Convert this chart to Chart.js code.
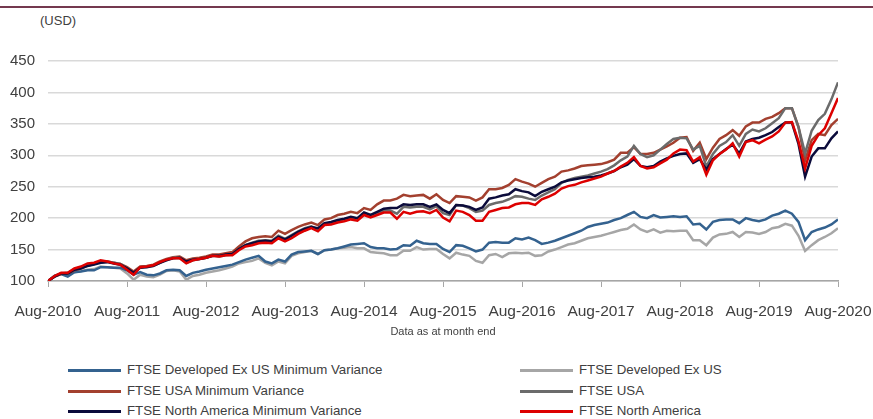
<!DOCTYPE html>
<html>
<head>
<meta charset="utf-8">
<script src="https://cdn.jsdelivr.net/npm/chart.js@4.4.1/dist/chart.umd.min.js"></script>
<style>
  body { margin: 0; background: #fff; font-family: "Liberation Sans", Arial, sans-serif; }
  #wrap { position: relative; width: 873px; height: 419px; overflow: hidden; }
  #topRule { position: absolute; left: 0; top: 6px; width: 873px; height: 2px; background: #74394f; }
  #unit { position: absolute; left: 40px; top: 13px; font-size: 13px; color: #404040; }
  #chart { position: absolute; left: 0; top: 0; }
  .leg { position: absolute; height: 16px; font-size: 13.3px; color: #404040; white-space: nowrap; }
  .leg span.ln { position: absolute; left: 0; top: 7px; width: 53px; height: 3px; }
  .leg span.tx { position: absolute; left: 59px; top: 0; line-height: 16px; }
</style>
</head>
<body>
<div id="wrap">
  <div id="topRule"></div>
  <div id="unit">(USD)</div>
  <canvas id="chart" width="873" height="345"></canvas>
  <div id="legend"></div>
</div>
<script>
const tickLabels = ['Aug-2010', 'Aug-2011', 'Aug-2012', 'Aug-2013', 'Aug-2014', 'Aug-2015',
                    'Aug-2016', 'Aug-2017', 'Aug-2018', 'Aug-2019', 'Aug-2020'];

const seriesNames = [
    'FTSE Developed Ex US Minimum Variance', 'FTSE Developed Ex US',
    'FTSE USA Minimum Variance', 'FTSE USA',
    'FTSE North America Minimum Variance', 'FTSE North America'
];

// monthly index values, Aug-2010 = 100
const devExUsMinVar = [
    100,108,111,107,114,115,117,117,122,122,
    121,121,117,110,114,110,109,112,117,118,
    117,108,113,115,118,120,122,124,126,130,
    134,137,140,131,128,134,131,142,146,147,
    148,143,149,150,152,155,158,159,160,154,
    152,152,150,151,157,156,164,160,159,159,
    151,146,157,156,152,147,150,161,162,161,
    161,168,166,169,165,159,161,164,168,172,
    176,180,186,189,191,193,197,200,205,210,
    202,200,205,201,202,203,202,203,190,191,
    182,194,197,198,198,192,200,197,195,198,
    204,207,212,207,194,165,178,182,185,190,198
];
const devExUs = [
    100,108,112,108,114,116,118,119,123,122,
    121,120,112,102,110,107,106,110,116,117,
    115,102,108,110,113,115,117,120,123,128,
    130,132,136,129,125,131,128,140,144,146,
    148,143,149,150,152,153,154,152,152,146,
    145,144,141,141,148,148,154,150,151,151,
    143,136,145,142,140,132,129,141,143,138,
    144,145,144,145,140,141,147,150,154,158,
    160,164,168,170,172,175,178,181,183,190,
    182,178,182,177,180,179,180,180,165,165,
    157,169,174,175,178,170,178,177,175,178,
    184,186,191,188,172,148,157,165,170,176,184
];
const usaMinVar = [
    100,107,111,112,117,120,124,127,130,131,
    129,127,122,115,123,124,126,131,135,138,
    139,133,136,137,139,142,142,144,146,155,
    163,168,170,171,170,180,175,181,186,190,
    193,189,198,200,205,207,210,208,216,213,
    222,228,228,231,237,235,236,237,231,238,
    229,224,235,234,233,228,233,246,246,248,
    253,262,258,255,250,256,262,266,274,276,
    279,283,284,285,286,289,293,304,304,313,
    302,302,304,309,314,320,328,329,307,320,
    294,312,326,332,340,331,346,352,352,358,
    361,367,375,375,345,292,324,334,332,348,358
];
const usa = [
    100,108,112,113,119,122,126,128,131,131,
    129,127,120,111,122,123,124,129,134,137,
    137,129,133,135,137,140,139,141,142,150,
    157,161,164,165,164,172,167,173,179,184,
    187,182,191,193,196,198,201,199,207,203,
    207,212,212,207,218,217,218,218,214,219,
    208,205,221,220,216,210,212,221,224,226,
    230,235,234,231,229,236,241,246,256,261,
    264,266,268,271,274,278,284,292,298,315,
    302,297,300,309,318,326,328,327,309,315,
    282,302,315,321,332,315,334,341,338,343,
    351,359,375,375,345,303,339,356,366,389,416
];
const naMinVar = [
    100,107,112,112,118,120,124,126,129,130,
    128,126,120,113,121,122,124,129,133,136,
    137,131,134,135,137,140,140,142,143,151,
    157,160,163,164,163,170,166,172,178,183,
    186,184,192,194,197,199,202,200,209,205,
    210,215,216,216,222,221,222,222,218,222,
    213,208,221,220,218,213,217,231,233,236,
    238,246,243,241,235,242,246,250,257,260,
    262,264,265,266,268,271,275,281,285,294,
    283,281,283,290,295,299,302,303,288,294,
    277,294,302,310,317,303,322,326,328,332,
    337,345,352,352,318,266,298,311,311,327,338
];
const na = [
    100,108,113,113,120,123,128,129,133,131,
    128,126,118,110,122,123,125,130,134,136,
    136,128,133,135,137,140,139,141,141,149,
    155,157,160,161,160,168,163,168,175,180,
    184,179,189,190,193,195,198,196,205,201,
    205,209,209,199,210,207,210,211,208,213,
    201,195,212,210,205,196,196,210,213,216,
    217,222,224,224,221,230,234,239,247,251,
    253,257,260,263,266,271,275,282,288,297,
    283,279,281,287,293,303,309,308,290,297,
    269,292,302,309,319,298,321,324,319,325,
    330,338,352,353,322,279,315,332,343,367,391
];

const colores = ['#34628f', '#a6a6a6', '#a3402f', '#6b6b6b', '#0b0b3b', '#dd0000'];
const orden = [5, 6, 4, 3, 2, 1];
const todas = [devExUsMinVar, devExUs, usaMinVar, usa, naMinVar, na];

const toPoints = (valores) => valores.map((v, i) => ({ x: i, y: v }));

const datasets = todas.map((valores, i) => ({
    label: seriesNames[i],
    data: toPoints(valores),
    borderColor: colores[i],
    backgroundColor: colores[i],
    borderWidth: 2.5,
    pointRadius: 0,
    tension: 0,
    order: orden[i]
}));

const ctx = document.getElementById('chart').getContext('2d');
const chart = new Chart(ctx, {
    type: 'line',
    data: { datasets: datasets },
    options: {
        responsive: false,
        animation: false,
        layout: { padding: { top: 61, right: 35, left: 0, bottom: 0 } },
        plugins: {
            legend: { display: false },
            tooltip: { enabled: false }
        },
        scales: {
            x: {
                type: 'linear',
                min: 0,
                max: 120,
                afterFit: (scale) => {
                    scale.height = 64;
                    scale.paddingLeft = 0;
                    scale.paddingRight = 0;
                },
                afterBuildTicks: (scale) => {
                    scale.ticks = tickLabels.map((t, i) => ({ value: i * 12 }));
                },
                ticks: {
                    autoSkip: false,
                    maxRotation: 0,
                    padding: 15,
                    color: '#404040',
                    font: { family: 'Liberation Sans', size: 15.5 },
                    callback: (value) => tickLabels[value / 12]
                },
                grid: { drawOnChartArea: false, tickLength: 6, color: '#a6a6a6' },
                border: { color: '#a6a6a6', width: 1.5 },
                title: {
                    display: true,
                    text: 'Data as at month end',
                    color: '#404040',
                    font: { family: 'Liberation Sans', size: 11 },
                    padding: { top: 0, bottom: 6 }
                }
            },
            y: {
                min: 100,
                max: 450,
                afterFit: (scale) => { scale.width = 48; },
                ticks: {
                    stepSize: 50,
                    padding: 13,
                    color: '#404040',
                    font: { family: 'Liberation Sans', size: 15 }
                },
                grid: { drawTicks: false, color: '#d9d9d9', lineWidth: 1.5 },
                border: { display: false }
            }
        }
    }
});

// legend in two columns, built from the datasets
const legendDiv = document.getElementById('legend');
chart.data.datasets.forEach((ds, i) => {
    const fila = Math.floor(i / 2);
    const col = i % 2;
    const item = document.createElement('div');
    item.className = 'leg';
    item.style.left = (col === 0 ? 68 : 520) + 'px';
    item.style.top = (362 + fila * 20.5) + 'px';
    item.innerHTML = `<span class="ln" style="background:${ds.borderColor}"></span><span class="tx">${ds.label}</span>`;
    legendDiv.appendChild(item);
});
</script>
</body>
</html>
